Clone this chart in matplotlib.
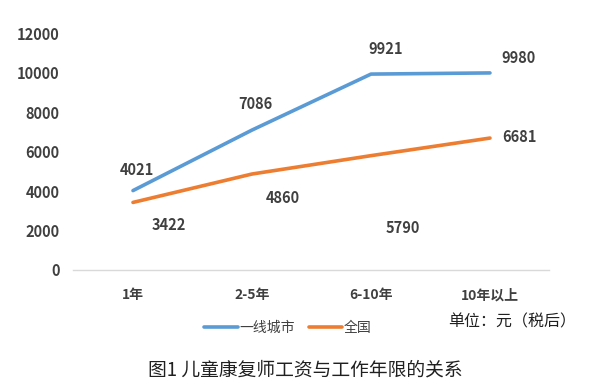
import matplotlib
matplotlib.use('Agg')
import matplotlib.pyplot as plt

plt.rcParams['font.family'] = ['Noto Sans CJK SC', 'DejaVu Sans']

categories = ['1年', '2-5年', '6-10年', '10年以上']
tier1 = [4021, 7086, 9921, 9980]
national = [3422, 4860, 5790, 6681]
y_ticks = [0, 2000, 4000, 6000, 8000, 10000, 12000]

# label offsets in pixels (dx, dy) from each point
tier1_off = [(4, 21), (3, 26), (15, 25), (29, 15)]
nat_off = [(36, -23), (31, -24), (32, -72), (29, 1)]

BLUE = '#5B9BD5'
ORANGE = '#ED7D31'
TXT = '#404040'

fig = plt.figure(figsize=(5.99, 3.91), dpi=100)
fig.patch.set_facecolor('white')
ax = fig.add_axes([0.1227, 0.3095, 0.7946, 0.606])

x = range(len(categories))
ax.plot(x, tier1, color=BLUE, linewidth=2.6, solid_capstyle='round',
        label='一线城市', zorder=3)
ax.plot(x, national, color=ORANGE, linewidth=2.6, solid_capstyle='round',
        label='全国', zorder=3)

for i, v in enumerate(tier1):
    ax.annotate(f'{v}', (i, v), xytext=(tier1_off[i][0] * 0.72, tier1_off[i][1] * 0.72),
                textcoords='offset points', ha='center', va='center',
                fontsize=10.5, fontweight='bold', color=TXT)
for i, v in enumerate(national):
    ax.annotate(f'{v}', (i, v), xytext=(nat_off[i][0] * 0.72, nat_off[i][1] * 0.72),
                textcoords='offset points', ha='center', va='center',
                fontsize=10.5, fontweight='bold', color=TXT)

ax.set_xlim(-0.5, len(categories) - 0.5)
ax.set_ylim(0, 12000)
ax.set_yticks(y_ticks)
ax.set_yticklabels([str(t) for t in y_ticks], fontsize=10.5, fontweight='bold', color=TXT)
ax.set_xticks(list(x))
ax.set_xticklabels(categories, fontsize=10, fontweight='bold', color=TXT)
ax.tick_params(axis='both', length=0)
ax.tick_params(axis='y', pad=10)
ax.tick_params(axis='x', pad=13)
for s in ['top', 'right', 'left']:
    ax.spines[s].set_visible(False)
ax.spines['bottom'].set_color('#D9D9D9')
ax.spines['bottom'].set_linewidth(1)

ax.legend(loc='center', bbox_to_anchor=(0.45, -0.245), ncol=2, frameon=False,
          fontsize=10, handlelength=2.4, handletextpad=0.1, columnspacing=1.0,
          labelcolor=TXT)

fig.text(0.8556, 0.176, '单位：元（税后）', ha='center', va='center',
         fontsize=11.5, color='#202020')
fig.text(0.51, 0.054, '图1 儿童康复师工资与工作年限的关系', ha='center', va='center',
         fontsize=13.5, color='#202020')

fig.savefig('out.png', dpi=100)
